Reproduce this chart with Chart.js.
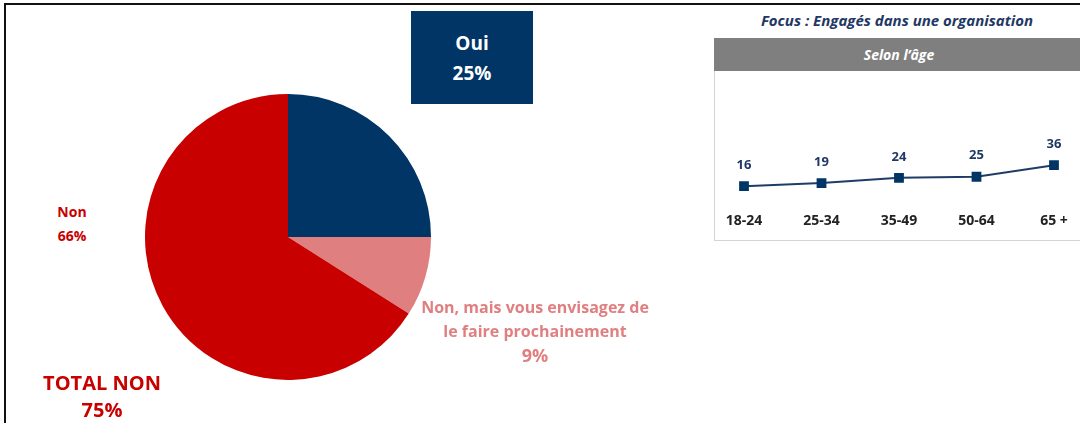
<!DOCTYPE html>
<html lang="fr">
<head>
<meta charset="UTF-8">
<title>Engagés dans une organisation</title>
<script src="https://cdn.jsdelivr.net/npm/chart.js"></script>
<style>
  body { margin: 0; background: #fff; font-family: "Open Sans", Lato, sans-serif; }
  #page { position: relative; width: 1080px; height: 423px; overflow: hidden; }
  #frame { position: absolute; left: 4px; top: 3px; width: 1100px; height: 440px; border-left: 2px solid #111; border-top: 2px solid #111; }
  .lbl { position: absolute; font-weight: bold; text-align: center; white-space: nowrap; }
  #ouiBox { left: 411px; top: 11px; width: 122px; height: 93px; background: #003566; color: #fff;
            font-size: 19px; line-height: 30px; display: flex; align-items: center; justify-content: center; }
  #focus { position: absolute; left: 714px; width: 366px; top: 10px; text-align: center;
           font-style: italic; font-weight: bold; font-size: 15px; color: #1f3864; }
  #head { position: absolute; left: 714px; top: 38px; width: 370px; height: 33px; background: #7f7f7f;
          color: #fff; font-style: italic; font-weight: bold; font-size: 14px; line-height: 33px; text-align: center; }
  #box { position: absolute; left: 714px; top: 71px; width: 370px; height: 169px; border: 1px solid #d4d4d4; border-top: none; }
</style>
</head>
<body>
<div id="page">
  <div id="frame"></div>
  <canvas id="pie" width="286" height="286" style="position:absolute;left:145px;top:94px"></canvas>

  <div id="ouiBox" class="lbl"><div>Oui<br>25%</div></div>
  <div class="lbl" style="left:32px;top:200px;width:80px;font-size:14px;line-height:24px;color:#c80000">Non<br>66%</div>
  <div class="lbl" style="left:22px;top:369px;width:160px;font-size:20px;line-height:27px;color:#c80000">TOTAL NON<br>75%</div>
  <div class="lbl" style="left:394px;top:295px;width:282px;font-size:16px;line-height:24px;color:#e07f80">Non, mais vous envisagez de<br>le faire prochainement<br><span style="font-size:18px">9%</span></div>

  <div id="focus">Focus : Engagés dans une organisation</div>
  <div id="head">Selon l’âge</div>
  <div id="box"></div>
  <canvas id="line" width="366" height="170" style="position:absolute;left:714px;top:71px"></canvas>
</div>

<script>
  // pie data (clockwise from 12 o'clock)
  var pieLabels = ['Oui', 'Non, mais vous envisagez de le faire prochainement', 'Non'];
  var pieValues = [25, 9, 66];
  var pieColors = ['#003566', '#df7f7f', '#c80000'];

  // focus by age
  var ageLabels = ['18-24', '25-34', '35-49', '50-64', '65 +'];
  var ageValues = [16, 19, 24, 25, 36];

  new Chart(document.getElementById('pie'), {
    type: 'pie',
    data: {
      labels: pieLabels,
      datasets: [{ data: pieValues, backgroundColor: pieColors, borderWidth: 0 }]
    },
    options: {
      responsive: false,
      animation: false,
      plugins: { legend: { display: false }, tooltip: { enabled: false } }
    }
  });

  // draws value labels above points and the age labels under them
  var lineLabels = {
    id: 'lineLabels',
    afterDatasetsDraw: function(chart) {
      var ctx = chart.ctx;
      var meta = chart.getDatasetMeta(0);
      var xs = chart.scales.x;
      ctx.save();
      ctx.textAlign = 'center';
      ctx.textBaseline = 'middle';
      meta.data.forEach(function(pt, i) {
        ctx.font = 'bold 13px "Open Sans", sans-serif';
        ctx.fillStyle = '#1f3864';
        ctx.fillText(ageValues[i], pt.x, pt.y - 21);
        ctx.font = 'bold 14px "Open Sans", sans-serif';
        ctx.fillStyle = '#222';
        ctx.fillText(ageLabels[i], xs.getPixelForValue(i), 150);
      });
      ctx.restore();
    }
  };

  new Chart(document.getElementById('line'), {
    type: 'line',
    data: {
      labels: ageLabels,
      datasets: [{
        data: ageValues,
        borderColor: '#1f3c66',
        borderWidth: 2,
        pointStyle: 'rect',
        pointRadius: 5.5,
        pointBackgroundColor: '#003566',
        pointBorderColor: '#003566',
        clip: false
      }]
    },
    options: {
      responsive: false,
      animation: false,
      layout: { padding: { left: 30, right: 26, top: 27, bottom: 38 } },
      scales: {
        x: { display: false, offset: false },
        y: { display: false, min: 0, max: 100 }
      },
      plugins: { legend: { display: false }, tooltip: { enabled: false } }
    },
    plugins: [lineLabels]
  });
</script>
</body>
</html>
